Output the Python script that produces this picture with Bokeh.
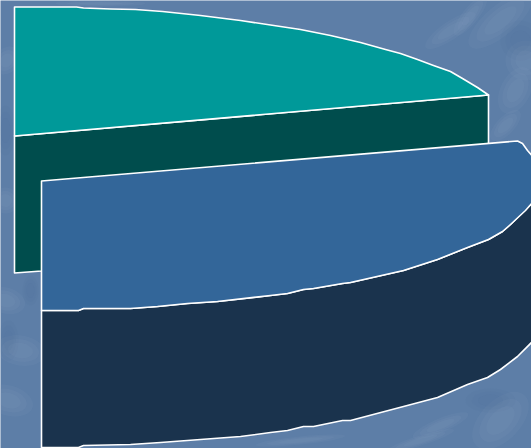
from bokeh.plotting import figure
from bokeh.models import Range1d
from bokeh.embed import file_html
from bokeh.resources import INLINE

# Outline of each face (x, y in picture units, y downwards)
teal_top_x = [14, 76, 83, 110, 135, 162, 200, 240, 270, 300, 330, 360, 385, 400, 417, 433, 450, 462, 477, 488, 14]
teal_top_y = [6.5, 6.5, 7.5, 8.5, 9, 11, 15, 20, 24.5, 29, 35, 42, 49, 53, 59, 65, 71, 78, 87, 94.5, 135.5]

teal_side_x = [14, 488, 488, 41, 14]
teal_side_y = [135.5, 94.5, 150, 270.5, 272.5]

blue_top_x = [41, 517, 522, 527, 533, 533, 525, 510, 502, 488, 467, 437, 403, 350, 342, 313, 303, 287, 270, 217, 187, 157, 130, 83, 78, 41]
blue_top_y = [180.5, 140.5, 143, 150, 157, 201, 210, 224, 231, 239, 247, 259, 270, 282, 283, 288, 289, 293, 295, 301, 303, 306, 308, 308, 310, 310]

navy_side_x = [41, 78, 83, 130, 157, 187, 217, 270, 287, 303, 313, 342, 350, 403, 437, 467, 488, 502, 510, 533,
               533, 517, 500, 487, 467, 437, 403, 350, 342, 313, 303, 287, 270, 240, 200, 160, 130, 83, 78, 41]
navy_side_y = [310, 310, 308, 308, 306, 303, 301, 295, 293, 289, 288, 283, 282, 270, 259, 247, 239, 231, 224, 201,
               340, 356, 369, 377, 384, 397, 406, 420, 420, 426, 426, 430, 432, 436, 439, 442, 444, 445, 447, 447]

# Soft lighter and darker patches of the mottled backdrop
light_x = [6, 5, 8, 500, 470, 515, 505, 450, 500, 440, 5, 100, 20, 420, 525, 300]
light_y = [60, 200, 400, 20, 15, 90, 125, 30, 420, 425, 300, 3, 350, 440, 60, 440]
light_w = [30, 26, 30, 80, 50, 50, 40, 60, 70, 60, 26, 90, 30, 70, 40, 90]
light_h = [24, 26, 50, 30, 16, 30, 18, 18, 40, 14, 40, 6, 50, 10, 40, 8]
light_a = [0.9, 1.2, 1.3, 0.7, 0.9, 1.1, 0.8, 0.6, 0.8, 0.4, 1.3, 0.0, 1.4, 0.3, 1.2, 0.1]
dark_x = [5, 520, 470, 8, 490, 30]
dark_y = [130, 40, 120, 340, 400, 290]
dark_w = [20, 40, 40, 20, 50, 16]
dark_h = [50, 40, 30, 40, 24, 30]

p = figure(width=531, height=448, output_backend="svg", toolbar_location=None,
           x_range=Range1d(0, 531), y_range=Range1d(448, 0), min_border=0)
p.axis.visible = False
p.grid.visible = False
p.outline_line_color = None
p.background_fill_color = "#5d7ea7"
p.border_fill_color = "#5d7ea7"

for k in (1.0, 0.75, 0.5):
    p.ellipse(light_x, light_y, width=[w * k for w in light_w], height=[h * k for h in light_h],
              angle=light_a, fill_color="#8ea8c6", fill_alpha=0.09, line_color=None)
    p.ellipse(dark_x, dark_y, width=[w * k for w in dark_w], height=[h * k for h in dark_h],
              fill_color="#4a6a98", fill_alpha=0.09, line_color=None)

outline = dict(line_color="white", line_width=1.6, line_join="round")
p.patch(teal_side_x, teal_side_y, fill_color="#004d4d", **outline)
p.patch(teal_top_x, teal_top_y, fill_color="#009999", **outline)
p.patch(navy_side_x, navy_side_y, fill_color="#1a334d", **outline)
p.patch(blue_top_x, blue_top_y, fill_color="#336699", **outline)

html = file_html(p, INLINE).replace("<head>", "<head><style>html,body{margin:0;overflow:hidden}</style>", 1)
open("out.html", "w").write(html)
